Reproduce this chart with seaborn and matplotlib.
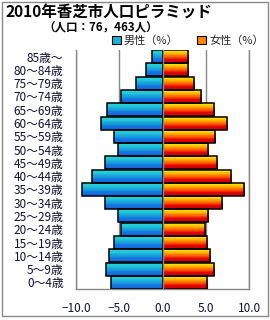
import numpy as np
import pandas as pd
import matplotlib
matplotlib.use("Agg")
import matplotlib.pyplot as plt
import seaborn as sns
from matplotlib.patches import Rectangle, Patch

ages = ["85歳～", "80～84歳", "75～79歳", "70～74歳", "65～69歳", "60～64歳",
        "55～59歳", "50～54歳", "45～49歳", "40～44歳", "35～39歳", "30～34歳",
        "25～29歳", "20～24歳", "15～19歳", "10～14歳", "5～9歳", "0～4歳"]
male = [1.2, 1.9, 3.1, 4.8, 6.4, 7.1, 5.6, 5.1, 6.6, 8.1, 9.3, 6.6,
        5.2, 4.8, 5.6, 6.2, 6.5, 5.9]
female = [2.9, 2.9, 3.6, 4.4, 5.9, 7.4, 6.1, 5.3, 6.3, 7.9, 9.4, 6.9,
          5.3, 4.9, 5.1, 5.5, 5.9, 5.2]
xticks = [-10, -5, 0, 5, 10]
xticklabels = ["−10.0", "−5.0", "0.0", "5.0", "10.0"]

sns.set_style("white")
plt.rcParams['font.family'] = ['Noto Sans CJK JP', 'DejaVu Sans']

df_m = pd.DataFrame({"age": ages, "value": [-v for v in male]})
df_f = pd.DataFrame({"age": ages, "value": female})

fig = plt.figure(figsize=(2.7, 3.2), dpi=100)
ax = fig.add_axes([76 / 270, 1 - 289 / 320, 173 / 270, 239 / 320])

sns.barplot(data=df_m, x="value", y="age", orient="h", order=ages, ax=ax,
            width=0.98, color="#20b0d8", edgecolor="black", linewidth=1.1, zorder=3)
n_m = len(ax.patches)
sns.barplot(data=df_f, x="value", y="age", orient="h", order=ages, ax=ax,
            width=0.98, color="#ff8000", edgecolor="black", linewidth=1.1, zorder=3)

def grad(stops, n=24):
    cols = np.array([matplotlib.colors.to_rgb(c) for c in stops])
    pos = np.linspace(0, 1, len(stops))
    t = np.linspace(0, 1, n)
    g = np.stack([np.interp(t, pos, cols[:, k]) for k in range(3)], axis=1)
    return g[:, None, :]

g_m = grad(["#26dcd4", "#22ccd8", "#1aa4dc", "#1478e0", "#1060e0"])
g_f = grad(["#fff000", "#ffd800", "#ff9800", "#ff4800", "#e00000", "#c80000"])

for i, p in enumerate(list(ax.patches)):
    x0 = p.get_x(); w = p.get_width(); y0 = p.get_y(); h = p.get_height()
    g = g_m if i < n_m else g_f
    im = ax.imshow(g, extent=(min(x0, x0 + w), max(x0, x0 + w), y0 + h, y0),
                   aspect="auto", origin="upper", zorder=2.5,
                   interpolation="nearest")
    im.set_clip_path(p)
    p.set_facecolor("none")

ax.axvline(0, color="#888888", linewidth=1.0, zorder=4)
ax.set_xlim(-10, 10)
ax.set_ylim(len(ages) - 0.5, -0.5)
ax.set_xticks(xticks)
ax.set_xticklabels(xticklabels)
ax.set_xlabel("")
ax.set_ylabel("")
ax.grid(axis="x", color="#888888", linewidth=1.0, zorder=0)
ax.grid(axis="y", visible=False)
ax.tick_params(axis="both", length=0, labelsize=8.5, colors="#101030")
ax.tick_params(axis="x", pad=9)
ax.tick_params(axis="y", pad=9)
ax.spines["top"].set_visible(False)
for s in ["left", "bottom", "right"]:
    ax.spines[s].set_color("#888888")
    ax.spines[s].set_linewidth(1.0)

fig.text(6 / 270, 1 - 13 / 320, "2010年香芝市人口ピラミッド", fontsize=11.2,
         fontweight="bold", va="center", ha="left", color="black")
fig.text(43 / 270, 1 - 28.5 / 320, "（人口：76，463人）", fontsize=8.3,
         fontweight="bold", va="center", ha="left", color="black")

handles = [Patch(facecolor="#1cb0dc", edgecolor="black", linewidth=0.8),
           Patch(facecolor="#ff8800", edgecolor="black", linewidth=0.8)]
fig.legend(handles, ["男性（%）", "女性（%）"], loc="center",
           bbox_to_anchor=(188 / 270, 1 - 41 / 320), ncol=2, frameon=False,
           fontsize=8.0, handlelength=0.75, handleheight=0.75, handletextpad=0.3,
           columnspacing=1.7, borderaxespad=0)

fig.patches.append(Rectangle((1.5 / 270, 1 - 315.5 / 320), 266 / 270, 314 / 320,
                             transform=fig.transFigure, fill=False,
                             edgecolor="#888888", linewidth=1.0))

fig.savefig("out.png", dpi=100)
